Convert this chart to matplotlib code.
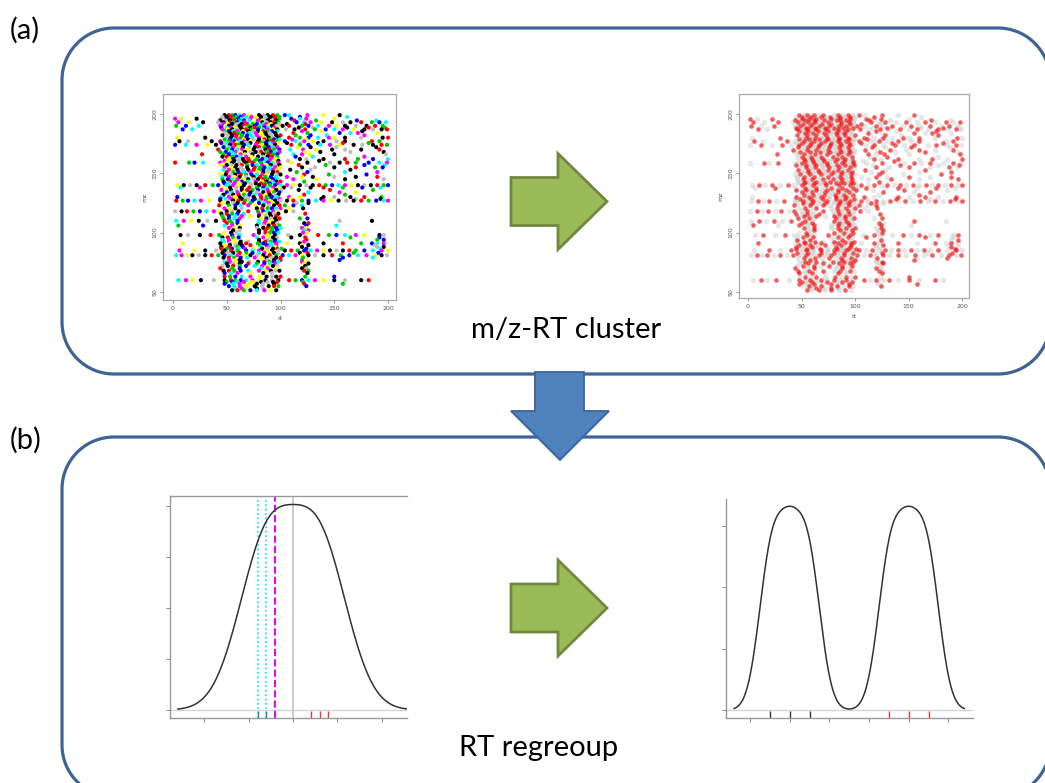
import numpy as np
import matplotlib
matplotlib.use("Agg")
import matplotlib.pyplot as plt
from matplotlib.patches import Polygon

W, H = 1045, 783

# ---- m/z - RT feature table (rows of equal m/z, rt values) ----
row_mz = [199, 197.5, 196, 194.5, 193, 191.5, 190, 188.5, 187, 185.5, 184, 182, 180,
          178.5, 177, 175.5, 174, 172, 170, 168, 166, 164, 162, 160.5, 159, 157, 155,
          153, 151, 149, 147, 145, 143, 141.5, 140, 138, 136, 134, 132, 130, 128.5,
          127, 125, 123, 120.5, 118, 116, 114, 112, 110, 108, 106, 104, 102, 100, 98,
          96, 94, 92.5, 91, 89.5, 88, 86.5, 85, 83, 81, 79, 77, 75.5, 74, 72, 70, 68,
          66, 63, 60, 58.5, 57, 55, 53, 51.5]
row_rt = [
    [48, 52, 55, 58, 62, 66, 70, 80, 84, 88, 93, 97, 104, 108, 125, 140, 155],
    [46, 50, 54, 59, 63, 68, 73, 77, 82, 86, 91, 95, 99, 118, 162],
    [2, 8, 22, 45, 50, 54, 57, 61, 64, 72, 78, 82, 86, 90, 95, 99, 110, 118, 124, 150],
    [44, 49, 53, 57, 62, 66, 71, 79, 83, 88, 92, 96, 113, 133, 171, 189],
    [5, 15, 28, 42, 47, 53, 56, 60, 63, 67, 75, 83, 87, 91, 94, 98, 115, 122, 128, 138, 148, 158, 165, 175, 185, 192, 198],
    [47, 51, 55, 60, 64, 69, 74, 78, 84, 87, 91, 95, 99, 106, 123],
    [3, 12, 24, 44, 49, 52, 58, 62, 66, 70, 76, 81, 85, 89, 92, 96, 102, 108, 120, 126, 135, 145, 152, 160, 170, 180, 188, 195],
    [45, 50, 54, 58, 63, 67, 72, 76, 80, 85, 89, 94, 98, 117, 130, 162, 182, 197],
    [9, 18, 46, 51, 55, 59, 64, 68, 73, 79, 84, 88, 93, 97, 105, 113, 123, 132, 142, 150, 158, 168, 178, 186, 194, 199],
    [48, 52, 56, 60, 65, 70, 75, 79, 84, 88, 92, 97, 120, 138, 176],
    [48, 53, 57, 61, 65, 71, 77, 82, 86, 90, 95, 112, 125, 155, 165, 172, 190],
    [46, 51, 55, 59, 64, 69, 73, 78, 83, 87, 91, 96, 100, 114, 128, 143, 178],
    [4, 30, 50, 54, 58, 63, 68, 74, 80, 85, 89, 93, 98, 108, 118, 126, 135, 145, 150, 160, 175, 195, 200],
    [48, 53, 57, 61, 66, 70, 75, 80, 85, 90, 94, 99, 111, 124],
    [6, 14, 36, 44, 52, 57, 62, 66, 72, 79, 84, 88, 92, 96, 104, 114, 122, 130, 140, 152, 160, 185, 192],
    [45, 50, 55, 59, 64, 68, 72, 78, 82, 86, 90, 94, 98, 106, 119, 135, 158, 182],
    [2, 12, 22, 32, 40, 48, 53, 58, 61, 66, 70, 77, 83, 87, 91, 95, 110, 118, 126, 137, 146, 155, 168, 176, 186, 194, 199],
    [47, 52, 56, 61, 65, 71, 76, 80, 85, 89, 93, 97, 116, 128, 152, 189],
    [42, 50, 55, 60, 64, 69, 75, 81, 86, 90, 94, 99, 109, 121, 133, 148, 160, 175, 192],
    [44, 49, 54, 58, 62, 67, 72, 77, 82, 87, 91, 95, 99, 123, 137, 165, 196],
    [27, 47, 52, 57, 63, 67, 74, 80, 84, 89, 93, 97, 112, 120, 127, 150, 198],
    [46, 50, 55, 59, 63, 68, 73, 79, 84, 88, 92, 97, 114, 130, 178],
    [52, 56, 60, 65, 70, 78, 83, 87, 91, 96, 118, 124, 140, 160, 172, 186, 200],
    [48, 53, 57, 61, 66, 71, 76, 81, 86, 90, 94, 98, 107, 136],
    [2, 15, 20, 28, 44, 50, 55, 62, 68, 74, 82, 88, 92, 98, 110, 125, 146, 155, 162, 170, 182, 192, 199],
    [45, 50, 54, 59, 64, 69, 74, 78, 83, 87, 91, 95, 99, 117, 142, 178, 197],
    [48, 54, 58, 63, 69, 76, 81, 85, 90, 95, 100, 120, 132, 150, 170, 188, 195],
    [47, 52, 56, 60, 65, 70, 75, 80, 84, 89, 93, 97, 109, 128, 165],
    [50, 56, 61, 66, 72, 79, 84, 88, 93, 97, 115, 125, 160, 190],
    [44, 49, 54, 58, 63, 68, 73, 78, 83, 87, 92, 96, 100, 122, 145, 180],
    [46, 52, 57, 62, 68, 75, 81, 86, 91, 96, 106, 120, 130, 150, 170, 190],
    [46, 51, 55, 60, 65, 70, 75, 79, 84, 88, 93, 97, 112, 134, 160, 196],
    [47, 53, 58, 64, 70, 77, 83, 87, 92, 96, 100, 122],
    [48, 52, 57, 62, 67, 72, 77, 82, 86, 90, 94, 98],
    [4, 10, 16, 22, 30, 37, 42, 50, 56, 61, 66, 73, 80, 85, 90, 95, 100, 106, 112, 118, 124, 130, 136, 142, 148, 154, 160, 166, 172, 178, 184, 190, 196, 200],
    [7, 25, 45, 53, 59, 64, 71, 78, 84, 88, 93, 98, 103, 110, 128, 140, 158, 176, 193],
    [45, 50, 54, 59, 64, 69, 74, 79, 84, 88, 92, 96, 101, 117, 146, 186],
    [50, 55, 60, 66, 72, 78, 84, 89, 94, 99, 126, 155, 170],
    [47, 52, 56, 61, 66, 71, 76, 81, 86, 90, 94, 98, 122, 160],
    [4, 45, 52, 57, 62, 68, 75, 82, 87, 92, 97, 108, 118, 140, 150, 165, 178, 194],
    [44, 49, 54, 59, 64, 70, 76, 82, 87, 91, 95, 99, 110, 138, 170, 193],
    [3, 9, 14, 20, 26, 34, 44, 51, 56, 61, 67, 74, 80, 86, 90, 95, 100, 106, 112, 120, 126, 133, 140, 147, 154, 161, 168, 175, 182, 189, 196, 200],
    [46, 51, 56, 60, 66, 72, 80, 85, 89, 93, 97, 115, 126],
    [43, 52, 58, 63, 70, 77, 84, 89, 94, 99, 104, 112, 120],
    [48, 53, 58, 64, 78, 83, 88, 92, 96, 100, 108, 121],
    [2, 8, 13, 19, 25, 31, 38, 43, 50, 55, 61, 70, 79, 84, 88, 93, 98, 105, 112],
    [45, 50, 55, 60, 66, 80, 85, 90, 94, 98, 123],
    [46, 52, 58, 64, 72, 80, 86, 91, 96],
    [47, 52, 57, 62, 82, 87, 91, 95, 99, 118, 125],
    [3, 10, 17, 24, 32, 40, 48, 53, 60, 80, 86, 92, 96, 155, 185],
    [50, 55, 60, 80, 85, 89, 93, 97, 122, 126],
    [5, 28, 48, 55, 62, 78, 84, 89, 94, 99, 124, 152],
    [52, 57, 62, 78, 84, 88, 92, 96, 100, 120, 124],
    [56, 62, 80, 86, 92, 97, 122, 126],
    [48, 54, 59, 80, 86, 90, 94, 98, 121, 125],
    [7, 14, 25, 35, 43, 55, 62, 75, 88, 95, 107, 118, 135, 145, 152, 160, 170, 178, 192, 196],
    [46, 51, 56, 61, 78, 84, 89, 93, 97, 110, 123, 165, 192],
    [46, 52, 58, 80, 88, 95, 124, 190, 196],
    [47, 52, 57, 63, 70, 80, 86, 91, 95, 99, 122],
    [9, 44, 53, 62, 68, 79, 84, 90, 96, 106, 118, 125, 140, 158, 175, 185, 190, 196],
    [48, 53, 58, 64, 72, 81, 87, 92, 96, 120, 126, 188],
    [45, 52, 60, 65, 82, 88, 95, 120, 190, 196],
    [45, 50, 55, 61, 67, 75, 83, 88, 93, 97, 101, 124, 193],
    [6, 20, 30, 40, 48, 54, 60, 68, 74, 80, 86, 92, 98, 104, 110, 116, 122, 128, 134, 140, 146, 152, 158, 164, 170, 178, 186, 194, 200],
    [46, 51, 56, 62, 68, 74, 80, 85, 90, 94, 98, 118, 125, 168, 191],
    [3, 8, 13, 18, 24, 30, 36, 42, 48, 54, 60, 66, 72, 78, 84, 90, 96, 102, 108, 114, 120, 126, 132, 140, 148, 156, 164, 172, 180, 188, 194, 199],
    [47, 52, 57, 63, 69, 76, 82, 87, 92, 96, 100, 121, 158, 186],
    [52, 58, 62, 88, 94, 100, 120, 155],
    [48, 53, 58, 64, 71, 79, 85, 90, 94, 98, 120, 125],
    [50, 56, 62, 70, 78, 85, 90, 95, 122, 126],
    [46, 51, 56, 62, 68, 76, 83, 88, 93, 97, 123],
    [44, 55, 62, 82, 88, 96, 120, 124],
    [47, 52, 57, 63, 70, 80, 86, 91, 95, 99, 122, 126],
    [48, 54, 60, 72, 84, 92, 125],
    [48, 53, 58, 64, 72, 81, 87, 92, 96, 100, 123, 150],
    [5, 12, 18, 26, 38, 48, 54, 58, 63, 68, 74, 80, 86, 92, 98, 108, 114, 120, 126, 132, 140, 150, 160, 175, 182],
    [50, 55, 60, 66, 74, 82, 88, 93, 97, 121],
    [48, 56, 62, 70, 78, 84, 94, 122, 158],
    [52, 57, 62, 68, 76, 83, 89, 94, 98, 124],
    [58, 64, 70, 78, 84],
    [55, 60, 66, 72, 78, 85, 91, 96],
]
cluster_colors = ["black", "red", "#00cd00", "blue", "cyan", "magenta", "yellow", "black", "#bebebe"]

# ---- RT regroup: retention times of peaks (rug) ----
rt_left_blue = [-0.8, -0.6]
rt_left_mag = [-0.4]
rt_left_red = [0.4, 0.6, 0.8]
bw_left = 0.6
rt_right_black = [0.5, 1.0, 1.5]
rt_right_red = [3.5, 4.0, 4.5]
bw_right = 0.3

rt = np.concatenate([np.array(r, float) for r in row_rt])
mz = np.concatenate([np.full(len(r), m, float) for m, r in zip(row_mz, row_rt)])
idx = np.arange(len(rt))


def kde(pts, bw):
    pts = np.asarray(pts, float)
    x = np.linspace(pts.min() - 3 * bw, pts.max() + 3 * bw, 512)
    y = np.exp(-0.5 * ((x[:, None] - pts[None, :]) / bw) ** 2).sum(1)
    return x, y / (len(pts) * bw * np.sqrt(2 * np.pi))


def px_axes(l, t, r, b):
    return fig.add_axes([l / W, 1 - b / H, (r - l) / W, (b - t) / H])


def rounded_box(ax, x0, y0, x1, y1, r, **kw):
    # corners as circle arcs, pixel coordinates with y pointing down
    pts = []
    for cx, cy, a0 in [(x1 - r, y0 + r, -90), (x1 - r, y1 - r, 0),
                       (x0 + r, y1 - r, 90), (x0 + r, y0 + r, 180)]:
        a = np.radians(np.linspace(a0, a0 + 90, 30))
        pts += list(zip(cx + r * np.cos(a), cy + r * np.sin(a)))
    ax.add_patch(Polygon(pts, closed=True, fill=False, **kw))


fig = plt.figure(figsize=(W / 100, H / 100), dpi=100)

# background canvas in pixel coordinates
bg = fig.add_axes([0, 0, 1, 1])
bg.set_xlim(0, W)
bg.set_ylim(H, 0)
bg.axis("off")

edge = "#3d6495"
rounded_box(bg, 62, 28, 1050, 374, 52, ec=edge, lw=2.3)
rounded_box(bg, 62, 437, 1050, 797, 52, ec=edge, lw=2.3)

# down arrow
bg.add_patch(Polygon([(535, 372), (584, 372), (584, 411), (609, 411), (560, 460),
                      (511, 411), (535, 411)], closed=True,
                     fc="#4f81bd", ec="#3a6696", lw=1.3, zorder=3))
# green arrows
for cy in [201.5, 608]:
    bg.add_patch(Polygon([(511, cy - 24), (558, cy - 24), (558, cy - 48), (607, cy),
                          (558, cy + 48), (558, cy + 24), (511, cy + 24)], closed=True,
                         fc="#9bbb59", ec="#71893f", lw=2, zorder=3))

font = "Lato"
bg.text(10, 30, "(a)", fontsize=21, family=font, va="center", ha="left")
bg.text(10, 440, "(b)", fontsize=21, family=font, va="center", ha="left")
bg.text(566, 330, "m/z-RT cluster", fontsize=21, family=font, va="center", ha="center")
bg.text(539, 748, "RT regreoup", fontsize=21, family=font, va="center", ha="center")


def style_scatter(ax, xlim):
    ax.set_xlim(*xlim)
    ax.set_ylim(43.3, 216.8)
    ax.set_xticks([0, 50, 100, 150, 200])
    ax.set_yticks([50, 100, 150, 200])
    ax.tick_params(direction="out", length=2.5, width=0.6, color="#888888",
                   labelsize=4.5, labelcolor="#555555", pad=1.5)
    for lab in ax.get_yticklabels():
        lab.set_rotation(90)
        lab.set_va("center")
    for s in ax.spines.values():
        s.set_color("#aaaaaa")
        s.set_linewidth(0.9)
    ax.set_xlabel("rt", fontsize=4.5, color="#555555", labelpad=4)
    ax.set_ylabel("mz", fontsize=4.5, color="#555555", labelpad=4)


# (a) left: clusters coloured
ax1 = px_axes(163, 94, 396, 300)
cols = [cluster_colors[i % len(cluster_colors)] for i in idx]
ax1.scatter(rt, mz, s=9, c=cols, linewidths=0)
style_scatter(ax1, (-9.3, 207.4))

# (a) right: grey features, red selected
ax2 = px_axes(739, 94, 969, 298)
ax2.scatter(rt, mz, s=16, c="#bdbdbd", alpha=0.35, linewidths=0)
sel = idx % 2 == 0
ax2.scatter(rt[sel], mz[sel], s=10, c="red", alpha=0.6, linewidths=0)
style_scatter(ax2, (-8.4, 206.5))
ax2.set_ylim(44.9, 216.8)


def style_density(ax):
    ax.set_xticklabels([])
    ax.set_yticklabels([])
    ax.tick_params(direction="out", length=3, width=0.7, color="#888888")
    for s in ax.spines.values():
        s.set_color("#999999")
        s.set_linewidth(1.0)
    ax.spines["right"].set_visible(False)
    ax.axhline(0, color="#d5d5d5", lw=1.0, zorder=0)


# (b) left: one broad group
ax3 = px_axes(170, 496, 407, 718)
pts = rt_left_blue + rt_left_mag + rt_left_red
x, y = kde(pts, bw_left)
ax3.axvline(0, color="#c8c8c8", lw=1.3)
for v in rt_left_blue:
    ax3.axvline(v, color="#00e5ee", lw=1.2, ls=":")
for v in rt_left_mag:
    ax3.axvline(v, color="#ee00ee", lw=1.4, ls="--")
ax3.plot(x, y, color="#333333", lw=1.1)
tr = ax3.get_xaxis_transform()
ax3.vlines(rt_left_blue, 0, 0.03, transform=tr, color="#2f8080", lw=1.0)
ax3.vlines(rt_left_mag, 0, 0.03, transform=tr, color="#b030b0", lw=1.0)
ax3.vlines(rt_left_red, 0, 0.03, transform=tr, color="#ff3333", lw=1.0)
ax3.set_xlim(-2.777, 2.573)
ax3.set_ylim(-0.0157, 0.4196)
ax3.set_xticks([-2, -1, 0, 1, 2])
ax3.set_yticks([0, 0.1, 0.2, 0.3, 0.4])
style_density(ax3)

# (b) right: regrouped into two
ax4 = px_axes(726, 499, 973, 718)
x, y = kde(rt_right_black + rt_right_red, bw_right)
ax4.plot(x, y, color="#333333", lw=1.1)
tr = ax4.get_xaxis_transform()
ax4.vlines(rt_right_black, 0, 0.03, transform=tr, color="#333333", lw=1.0)
ax4.vlines(rt_right_red, 0, 0.03, transform=tr, color="#ff3333", lw=1.0)
ax4.set_xlim(-0.605, 5.62)
ax4.set_ylim(-0.013, 0.344)
ax4.set_xticks([0, 1, 2, 3, 4, 5])
ax4.set_yticks([0, 0.1, 0.2, 0.3])
style_density(ax4)
ax4.spines["top"].set_visible(False)

fig.savefig("out.png", dpi=100)
